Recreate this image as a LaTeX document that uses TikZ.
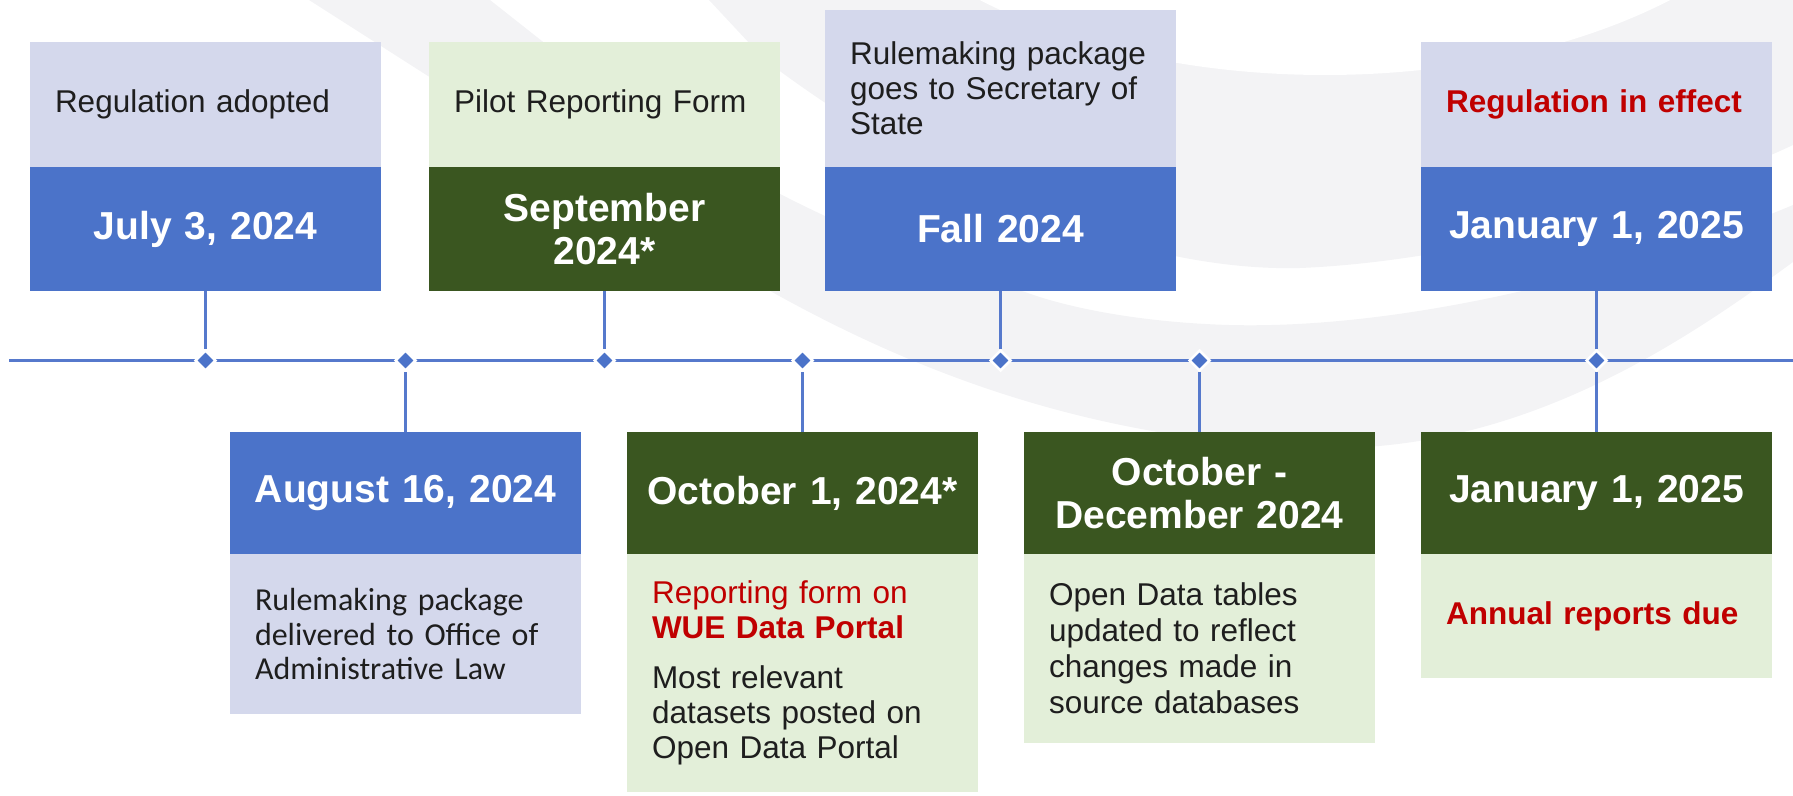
\documentclass[tikz,border=0pt]{standalone}
\usepackage{fontspec}
\setmainfont{Liberation Sans}
\newfontfamily\calib{Carlito}
\usetikzlibrary{shapes.geometric}
\definecolor{lav}{HTML}{D4D8EC}
\definecolor{blu}{HTML}{4B73C9}
\definecolor{dgreen}{HTML}{3A5620}
\definecolor{lgreen}{HTML}{E3EFD9}
\definecolor{redt}{HTML}{C00000}
\definecolor{bgray}{HTML}{F3F3F5}
\definecolor{txt}{HTML}{1E1E1E}
\definecolor{linec}{HTML}{5679CC}
\begin{document}
\begin{tikzpicture}[x=1pt,y=-1pt,
  part/.style={rectangle, anchor=north west, minimum width=351pt, text width=301pt,
    inner xsep=25pt, inner ysep=0pt, outer sep=0pt},
  lavpart/.style={part, fill=lav, text=txt, align=left, font=\fontsize{31.5}{35}\selectfont},
  greenpart/.style={part, fill=lgreen, text=txt, align=left, font=\fontsize{31.5}{35}\selectfont},
  datepart/.style={part, text width=345pt, inner xsep=3pt, text=white, align=center, font=\bfseries\fontsize{39}{43}\selectfont},
  bluedate/.style={datepart, fill=blu},
  greendate/.style={datepart, fill=dgreen},
  dia/.style={diamond, fill=blu, draw=white, line width=2.5pt, minimum width=21pt, minimum height=21pt, inner sep=0pt},
  tline/.style={draw=linec, line width=2.5pt},
  conn/.style={draw=linec, line width=2.2pt},
  bg/.style={fill=bgray}
]
\useasboundingbox (0,0) rectangle (1793,795);
\begin{scope}
\clip (0,0) rectangle (1793,795);
% background swooshes
\fill[bg] (309,0) -- (680,237) .. controls (850,345) and (1050,440) .. (1320,448)
  .. controls (1520,452) and (1680,345) .. (1793,262) -- (1793,205)
  .. controls (1650,265) and (1420,330) .. (1229,325)
  .. controls (1130,322) and (1060,305) .. (1025,292)
  .. controls (850,240) and (700,160) .. (566,60) -- (490,0) -- cycle;
\fill[bg] (709,0) -- (1793,0) -- (1793,145)
  .. controls (1650,212) and (1450,262) .. (1300,268)
  .. controls (1150,272) and (950,200) .. (765,60) -- cycle;
\fill[white] (1325,-200) ellipse [x radius=503, y radius=275];
\end{scope}

% top boxes
\node[lavpart, minimum height=125pt] (t1a) at (30,42) {Regulation adopted};
\node[bluedate, minimum height=124pt, anchor=north] (t1b) at (t1a.south) {July 3, 2024};

\node[greenpart, minimum height=125pt] (t2a) at (429,42) {Pilot Reporting Form};
\node[greendate, minimum height=124pt, anchor=north] (t2b) at (t2a.south) {September\\2024*};

\node[lavpart, minimum height=157pt] (t3a) at (825,10) {Rulemaking package\\goes to Secretary of\\State};
\node[bluedate, minimum height=124pt, anchor=north] (t3b) at (t3a.south) {Fall 2024};

\node[lavpart, minimum height=125pt, text=redt, font=\bfseries\fontsize{31.5}{35}\selectfont] (t4a) at (1421,42) {Regulation in effect};
\node[bluedate, minimum height=124pt, anchor=north] (t4b) at (t4a.south) {January 1, 2025};

% bottom boxes
\node[bluedate, minimum height=122pt] (b1a) at (230,432) {August 16, 2024};
\node[lavpart, minimum height=160pt, anchor=north, font=\calib\fontsize{32}{34.5}\selectfont] (b1b) at (b1a.south) {Rulemaking package\\delivered to Office of\\Administrative Law};

\node[greendate, minimum height=122pt] (b2a) at (627,432) {October 1, 2024*};
\node[greenpart, minimum height=238pt, anchor=north] (b2b) at (b2a.south)
  {\textcolor{redt}{Reporting form on}\\\textcolor{redt}{\bfseries WUE Data Portal}\\[15pt]Most relevant\\datasets posted on\\Open Data Portal};

\node[greendate, minimum height=122pt] (b3a) at (1024,432) {October -\\December 2024};
\node[greenpart, minimum height=189pt, anchor=north, font=\fontsize{31.5}{36}\selectfont] (b3b) at (b3a.south) {Open Data tables\\updated to reflect\\changes made in\\source databases};

\node[greendate, minimum height=122pt] (b4a) at (1421,432) {January 1, 2025};
\node[greenpart, minimum height=124pt, anchor=north, text=redt, font=\bfseries\fontsize{31.5}{35}\selectfont] (b4b) at (b4a.south) {Annual reports due};

% timeline
\coordinate (tlL) at (9,360.5);
\coordinate (tlR) at (1793,360.5);
\draw[tline] (tlL) -- (tlR);

\node[dia] (d1) at (t1b.south |- tlL) {};
\node[dia] (d2) at (b1a.north |- tlL) {};
\node[dia] (d3) at (t2b.south |- tlL) {};
\node[dia] (d4) at (b2a.north |- tlL) {};
\node[dia] (d5) at (t3b.south |- tlL) {};
\node[dia] (d6) at (b3a.north |- tlL) {};
\node[dia] (d7) at (t4b.south |- tlL) {};

\draw[conn] (t1b.south) -- (d1.north);
\draw[conn] (t2b.south) -- (d3.north);
\draw[conn] (t3b.south) -- (d5.north);
\draw[conn] (t4b.south) -- (d7.north);
\draw[conn] (d2.south) -- (b1a.north);
\draw[conn] (d4.south) -- (b2a.north);
\draw[conn] (d6.south) -- (b3a.north);
\draw[conn] (d7.south) -- (b4a.north);
\end{tikzpicture}
\end{document}
